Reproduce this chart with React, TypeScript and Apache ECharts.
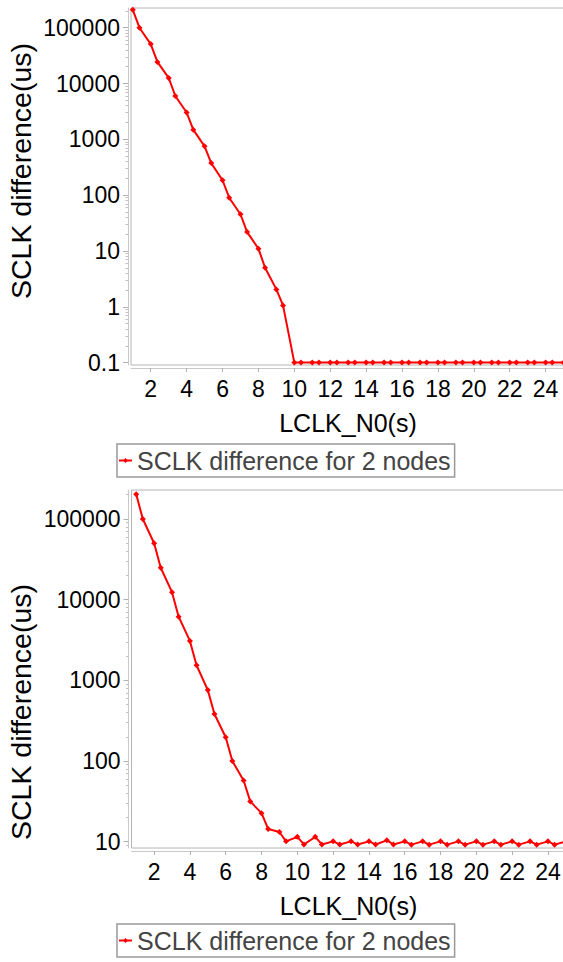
import React, { useEffect, useRef } from "react";
import * as echarts from "echarts";

// Sample times (s) on the LCLK_N0 axis
const sampleTimes = [
  1, 1.37, 2, 2.37, 3, 3.37, 4, 4.37, 5, 5.37, 6, 6.37, 7, 7.37, 8, 8.37, 9, 9.37,
  10, 10.37, 11, 11.37, 12, 12.37, 13, 13.37, 14, 14.37, 15, 15.37, 16, 16.37,
  17, 17.37, 18, 18.37, 19, 19.37, 20, 20.37, 21, 21.37, 22, 22.37, 23, 23.37,
  24, 24.37, 25,
];

// Top chart: SCLK difference (us)
const topDiff = [
  209000, 100000, 50800, 24400, 12600, 5970, 3020, 1490, 748, 375, 185, 90, 45.5,
  21.8, 11, 5.0, 2.05, 1.06,
  0.1, 0.1, 0.1, 0.1, 0.1, 0.1, 0.1, 0.1, 0.1, 0.1, 0.1, 0.1, 0.1, 0.1, 0.1, 0.1,
  0.1, 0.1, 0.1, 0.1, 0.1, 0.1, 0.1, 0.1, 0.1, 0.1, 0.1, 0.1, 0.1, 0.1, 0.1, 0.1, 0.1,
];

// Bottom chart: SCLK difference (us)
const bottomDiff = [
  202000, 100000, 50000, 24900, 12400, 6160, 3080, 1540, 757, 383, 197, 100, 57.4,
  31.6, 22.6, 14.4, 13.2, 10.1,
  11.5, 9.25, 11.5, 9.25, 10.1, 9.25, 10.1, 9.25, 10.1, 9.25, 10.4, 9.25, 10.1, 9.2,
  10.1, 9.2, 10.1, 9.2, 10.1, 9.2, 10.1, 9.2, 10.1, 9.2, 10.1, 9.2, 10.1, 9.2,
  10.1, 9.2, 10.1,
];

const minorTickValues = [
  0.2, 0.3, 0.4, 0.5, 0.6, 0.7, 0.8, 0.9,
  2, 3, 4, 5, 6, 7, 8, 9,
  20, 30, 40, 50, 60, 70, 80, 90,
  200, 300, 400, 500, 600, 700, 800, 900,
  2000, 3000, 4000, 5000, 6000, 7000, 8000, 9000,
  20000, 30000, 40000, 50000, 60000, 70000, 80000, 90000,
  200000,
];

const seriesName = "SCLK difference for 2 nodes";
const xTitle = "LCLK_N0(s)";
const yTitle = "SCLK difference(us)";

const FONT = "'Liberation Sans', Arial, sans-serif";

function fmtY(v: number): string {
  if (v < 1) return String(Number(v.toPrecision(3)));
  return String(Math.round(v));
}

export default function App() {
  const ref = useRef<HTMLDivElement>(null);

  useEffect(() => {
    if (!ref.current) return;
    const chart = echarts.init(ref.current, null, { renderer: "svg" });

    const grids = [
      { left: 131, top: 8, width: 434, height: 357 },
      { left: 131.5, top: 490, width: 434, height: 358 },
    ];
    const xRanges = [
      [0.9, 25.08],
      [0.737, 24.98],
    ];
    const yRanges = [
      [0.0906, 225400],
      [8.36, 228800],
    ];
    const yTitleCenters = [171, 712];
    const datas = [topDiff, bottomDiff];
    const legendTops = [444, 924];

    const xAxes: any[] = [];
    const allY: any[] = [];
    const series: any[] = [];
    const legends: any[] = [];
    const graphics: any[] = [];

    for (let i = 0; i < 2; i++) {
      xAxes.push({
        type: "value",
        gridIndex: i,
        min: xRanges[i][0],
        max: xRanges[i][1],
        splitNumber: 13,
        offset: 3,
        name: xTitle,
        nameLocation: "middle",
        nameGap: 42,
        nameTextStyle: { color: "#000", fontSize: 25, fontFamily: FONT },
        axisLine: { show: true, lineStyle: { color: "#c8c8c8", width: 1 } },
        axisTick: { show: true, length: 4, lineStyle: { color: "#b0b0b0" } },
        axisLabel: {
          color: "#000",
          fontSize: 23,
          fontFamily: FONT,
          margin: 9,
          showMinLabel: false,
          showMaxLabel: false,
        },
        splitLine: { show: false },
      });
      allY.push({
        type: "log",
        gridIndex: i,
        min: yRanges[i][0],
        max: yRanges[i][1],
        position: "left",
        offset: 3,
        axisLine: { show: true, lineStyle: { color: "#c8c8c8", width: 1 } },
        axisTick: { show: true, length: 5, lineStyle: { color: "#b0b0b0" } },
        axisLabel: {
          color: "#000",
          fontSize: 23,
          fontFamily: FONT,
          margin: 8,
          showMinLabel: false,
          showMaxLabel: false,
          formatter: fmtY,
        },
        splitLine: { show: false },
      });
      // minor log ticks
      allY.push({
        type: "log",
        gridIndex: i,
        min: yRanges[i][0],
        max: yRanges[i][1],
        position: "left",
        offset: 3,
        axisLine: { show: false },
        axisTick: {
          show: true,
          length: 2.5,
          lineStyle: { color: "#c0c0c0" },
          customValues: minorTickValues.filter(
            (v) => v > yRanges[i][0] && v < yRanges[i][1]
          ),
        },
        axisLabel: { show: false },
        splitLine: { show: false },
      });
      series.push({
        type: "line",
        name: seriesName,
        xAxisIndex: i,
        yAxisIndex: i * 2,
        data: sampleTimes.map((t, k) => [t, datas[i][k]]),
        symbol: "diamond",
        symbolSize: 6,
        showSymbol: true,
        lineStyle: { color: "#ff0000", width: 2 },
        itemStyle: { color: "#ff0000" },
        clip: true,
      });
      legends.push({
        left: 117,
        top: legendTops[i],
        orient: "horizontal",
        data: [seriesName],
        backgroundColor: "#fff",
        borderColor: "#999",
        borderWidth: 1.5,
        padding: [4, 4, 4, 1],
        itemWidth: 13,
        itemHeight: 6,
        itemGap: 5,
        selectedMode: false,
        textStyle: { color: "#444", fontSize: 25, fontFamily: FONT },
      });
      graphics.push({
        type: "text",
        x: 21,
        y: yTitleCenters[i],
        rotation: Math.PI / 2,
        style: {
          text: yTitle,
          fill: "#000",
          font: `28.5px ${FONT}`,
          align: "center",
          verticalAlign: "middle",
        },
      });
    }

    chart.setOption({
      animation: false,
      backgroundColor: "#fff",
      textStyle: { fontFamily: FONT },
      grid: grids.map((g) => ({
        ...g,
        show: true,
        borderColor: "#b4b4b4",
        borderWidth: 1,
        backgroundColor: "#fff",
        containLabel: false,
        outerBoundsMode: "none",
      })),
      xAxis: xAxes,
      yAxis: allY,
      legend: legends,
      graphic: graphics,
      series,
    });

    return () => chart.dispose();
  }, []);

  return (
    <div
      ref={ref}
      style={{ position: "fixed", left: 0, top: 0, width: 563, height: 962 }}
    />
  );
}
